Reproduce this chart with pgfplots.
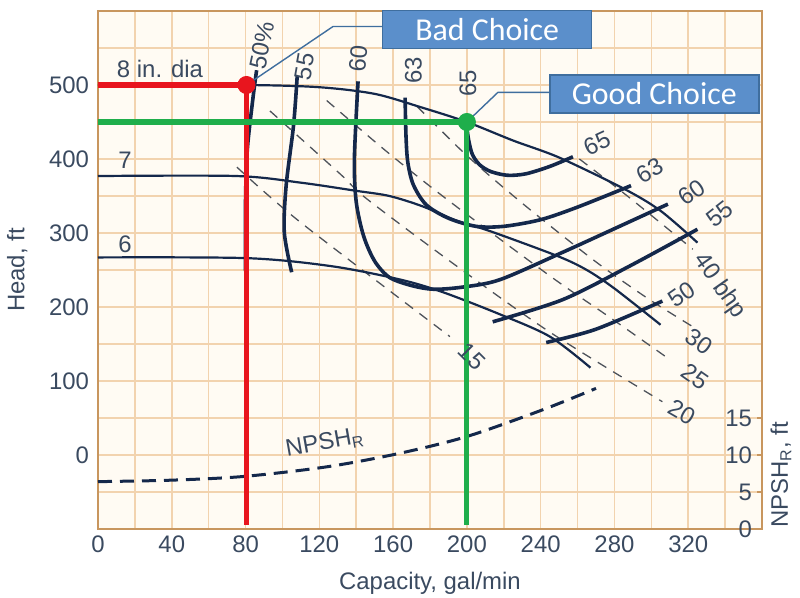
\documentclass[border=0pt]{standalone}
\usepackage{fontspec}
\setmainfont{Liberation Sans}
\newfontfamily\calibri{Carlito}
\usepackage{pgfplots}
\pgfplotsset{compat=1.18}

\definecolor{txt}{HTML}{3A4A60}
\definecolor{navy}{HTML}{14284B}
\definecolor{gridc}{HTML}{F2D3AE}
\definecolor{framec}{HTML}{C8965E}
\definecolor{paper}{HTML}{FFFBF3}
\definecolor{bhpc}{HTML}{4E535B}
\definecolor{boxfill}{HTML}{5B8FCB}
\definecolor{boxedge}{HTML}{3F6E9E}
\definecolor{redl}{HTML}{E8151E}
\definecolor{greenl}{HTML}{1FAE4B}

\tikzset{
  lbl/.style={text=txt, font=\fontsize{12}{14}\selectfont, inner sep=0pt},
  head/.style={navy, line width=1.1bp, smooth},
  eff/.style={navy, line width=1.8bp, smooth},
  bhp/.style={bhpc, line width=0.65bp, dash pattern=on 5bp off 4bp, smooth},
  choice/.style={fill=boxfill, draw=boxedge, line width=0.8bp, minimum width=104.5bp,
    minimum height=19bp, inner sep=0pt, text=white, font=\calibri\fontsize{16}{18}\selectfont},
}

\begin{document}
\begin{tikzpicture}
\path[use as bounding box] (-49bp,-34.5bp) rectangle (351bp,264.5bp);

\begin{axis}[
  at={(0,0)}, anchor=south west,
  scale only axis, width=332bp, height=259bp,
  xmin=0, xmax=360, ymin=-100, ymax=600,
  xtick={0,40,...,360}, xticklabels={0,40,80,120,160,200,240,280,320,},
  ytick={-100,0,...,600}, yticklabels={,0,100,200,300,400,500,},
  minor xtick={20,60,...,340}, minor ytick={-50,50,...,550},
  grid=both,
  major grid style={gridc, line width=0.8bp},
  minor grid style={gridc, line width=0.8bp},
  tick style={draw=none},
  axis line style={framec, line width=1.1bp},
  axis background/.style={fill=paper},
  ticklabel style={font=\fontsize{12}{14}\selectfont, text=txt},
  yticklabel style={xshift=-1bp},
  /pgf/number format/assume math mode=true,
  xlabel={Capacity, gal/min}, ylabel={Head, ft},
  label style={font=\fontsize{12}{14}\selectfont, text=txt},
  xlabel style={yshift=-3bp},
  ylabel style={yshift=4bp},
  clip=false,
]

% brake horsepower lines
\addplot[bhp] coordinates {(75.3,389) (109.5,315) (190.8,160)};
\addplot[bhp] coordinates {(93.2,465) (131.2,380) (145.8,346) (194.6,255) (245,166) (306,72)};
\addplot[bhp] coordinates {(124,479) (158,407) (191,342) (245,242) (277.5,186) (310,129)};
\addplot[bhp] coordinates {(173,471) (196,414) (212.5,377) (236,328) (270.5,260) (299,210) (324.7,170)};
\addplot[bhp] coordinates {(261,400) (287,350) (322.5,278)};

% head-capacity curves for each impeller diameter
\addplot[head] coordinates {(0,500) (80,500) (120,497) (150,488) (175,470) (200,450) (225,425) (250,402) (285,360) (305,330) (325,287)};
\addplot[head] coordinates {(0,377) (75,377) (110,368) (140,357) (158,350) (176,336) (195,316) (212,303) (249,269) (265,250) (280,225) (305,176)};
\addplot[head] coordinates {(0,267) (81,266) (127,255) (164,237) (187,220) (218,190) (245,160) (267,118)};

% efficiency curves
\addplot[eff] coordinates {(86,520) (84,482) (81,414) (80,346) (80,248)};
\addplot[eff] coordinates {(108,512) (106,445) (102,364) (101,301) (105,247)};
\addplot[eff] coordinates {(141,505) (139,400) (140,342) (144,296) (150,262) (158,240) (170,229) (182,224) (198,227) (218,237) (252,274) (288,315) (309,339)};
\addplot[eff] coordinates {(166.5,483) (167,430) (168,395) (171,365) (178,338) (190,320) (205,309) (220,309) (240,318) (260,335) (289,364)};
\addplot[eff] coordinates {(200,442) (201,425) (203,406) (207,392) (213,383) (222,378) (232,380) (245,390) (257.5,403)};
\addplot[eff] coordinates {(214,180) (252,210) (288,255) (325,305)};
\addplot[eff] coordinates {(243,152) (270,170) (306,208)};

% required NPSH, read on the right-hand scale
\addplot[navy, line width=1.5bp, dash pattern=on 7bp off 4bp, smooth]
  table[x=q, y expr=10*\thisrow{npsh}-100] {
  q    npsh
  0    6.4
  40   6.6
  79   7.1
  124  8.4
  163  10.2
  200  12.5
  241  16.1
  270  19.0
};

% selected operating points
\addplot[redl, line width=2.6bp] coordinates {(0,500) (80.5,500) (80.5,-95)};
\addplot[greenl, line width=2.6bp] coordinates {(0,450) (200,450) (200,-95)};
\addplot[boxedge, line width=0.7bp] coordinates {(80.5,500) (127.4,579) (154.5,579)};
\addplot[boxedge, line width=0.7bp] coordinates {(200,450) (216.8,490) (245,490)};
\addplot[only marks, mark=*, mark size=4.3bp, redl] coordinates {(80.5,500)};
\addplot[only marks, mark=*, mark size=4.3bp, greenl] coordinates {(200,450)};

\node[choice] at (axis cs:211,575) {Bad Choice};
\node[choice] at (axis cs:301.6,487.8) {Good Choice};

% curve labels
\node[lbl] at (axis cs:33.6,522) {8 in. dia};
\node[lbl] at (axis cs:14.6,398) {7};
\node[lbl] at (axis cs:14.6,285) {6};
\node[lbl, rotate=78] at (axis cs:89,553) {50\%};
\node[lbl, rotate=80] at (axis cs:112,525) {55};
\node[lbl, rotate=85] at (axis cs:141,536) {60};
\node[lbl, rotate=90] at (axis cs:171,520) {63};
\node[lbl, rotate=90] at (axis cs:200.5,502) {65};
\node[lbl, rotate=25] at (axis cs:270.5,421) {65};
\node[lbl, rotate=30] at (axis cs:299,384) {63};
\node[lbl, rotate=35] at (axis cs:322,355) {60};
\node[lbl, rotate=38] at (axis cs:337,326) {55};
\node[lbl, rotate=35] at (axis cs:316.5,217) {50};
\node[lbl, rotate=-55] at (axis cs:337,228) {40 bhp};
\node[lbl, rotate=-35] at (axis cs:326,153) {30};
\node[lbl, rotate=-35] at (axis cs:323.6,106) {25};
\node[lbl, rotate=-30] at (axis cs:316.5,58) {20};
\node[lbl, rotate=-45] at (axis cs:202.7,133) {15};
\node[lbl, rotate=10] at (axis cs:123,16) {NPSH\textsubscript{R}};
\node[xshift=9.5bp, lbl, rotate=90] at (axis cs:360,-27) {NPSH\textsubscript{R}, ft};
\end{axis}

% right-hand NPSH scale
\begin{axis}[
  at={(0,0)}, anchor=south west,
  scale only axis, width=332bp, height=259bp,
  xmin=0, xmax=360, ymin=0, ymax=70,
  axis x line=none, axis y line*=right,
  axis line style={draw=none},
  ytick={0,5,10,15},
  tick align=inside, major tick length=2.5bp,
  ytick style={draw=framec, line width=0.8bp},
  yticklabel style={anchor=east, xshift=-1.5bp, font=\fontsize{12}{14}\selectfont, text=txt},
  /pgf/number format/assume math mode=true,
]
\addplot[draw=none] coordinates {(0,0) (360,70)};
\end{axis}
\end{tikzpicture}
\end{document}
